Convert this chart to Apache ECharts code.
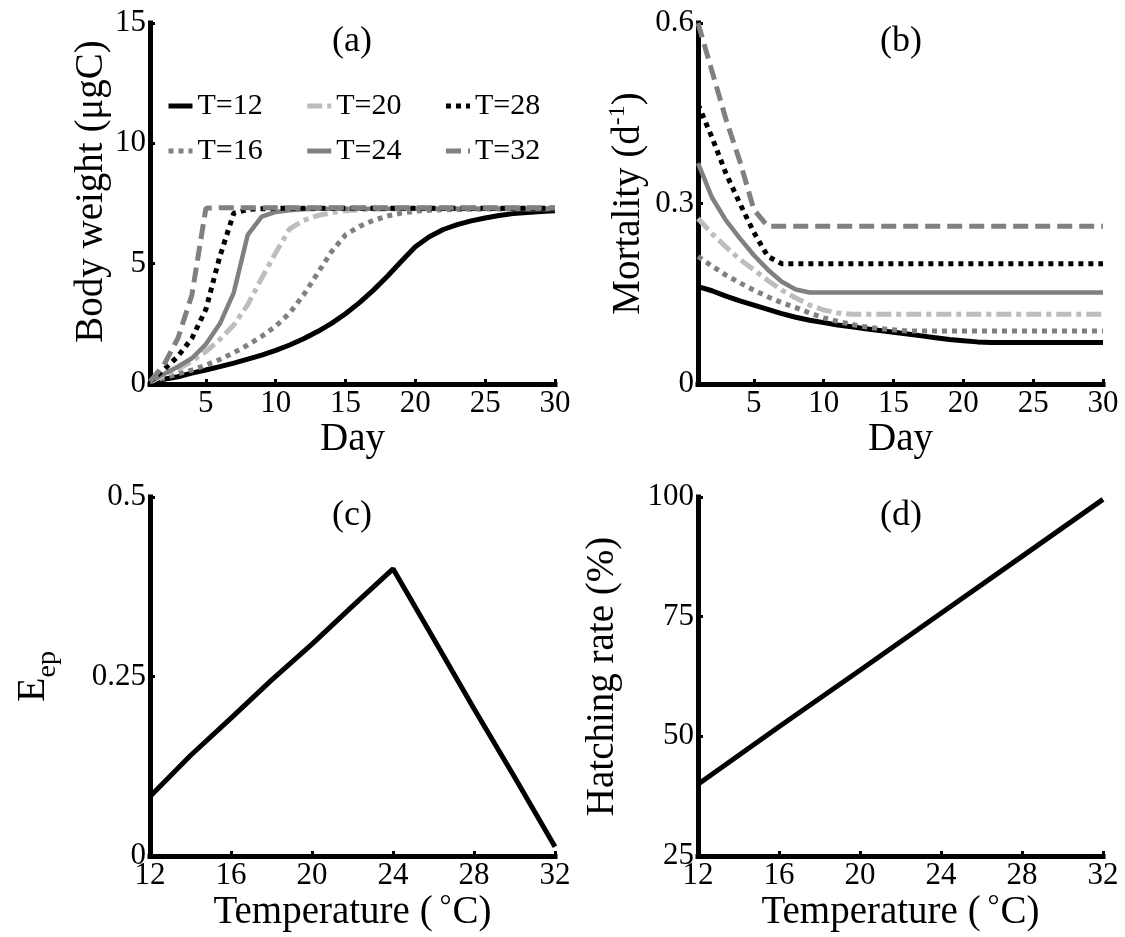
<!DOCTYPE html>
<html>
<head>
<meta charset="utf-8">
<script src="https://cdn.jsdelivr.net/npm/echarts@6/dist/echarts.min.js"></script>
<style>
html,body{margin:0;padding:0;background:#fff;}
#chart{width:1125px;height:937px;}
</style>
</head>
<body>
<div id="chart"></div>
<script>
// ---------- data ----------
const days = [1,2,3,4,5,6,7,8,9,10,11,12,13,14,15,16,17,18,19,20,21,22,23,24,25,26,27,28,29,30];
const seriesNames = ['T=12','T=16','T=20','T=24','T=28','T=32'];

// (a) body weight (μgC)
const weightT12 = [0.1,0.2,0.3,0.45,0.58,0.72,0.87,1.03,1.2,1.4,1.62,1.88,2.18,2.52,2.92,3.38,3.9,4.48,5.1,5.7,6.12,6.42,6.62,6.78,6.9,7.0,7.08,7.13,7.17,7.2];
const weightT16 = [0.1,0.25,0.42,0.58,0.78,1.02,1.3,1.62,1.98,2.4,2.95,3.7,4.6,5.5,6.2,6.55,6.8,6.98,7.1,7.18,7.22,7.24,7.25,7.26,7.27,7.27,7.28,7.28,7.28,7.28];
const weightT20 = [0.1,0.35,0.62,0.95,1.35,1.85,2.45,3.3,4.4,5.45,6.45,6.8,7.0,7.12,7.2,7.24,7.26,7.27,7.28,7.28,7.28,7.28,7.28,7.28,7.28,7.28,7.28,7.28,7.28,7.28];
const weightT24 = [0.1,0.42,0.72,1.07,1.65,2.5,3.8,6.2,6.95,7.15,7.22,7.26,7.28,7.28,7.28,7.28,7.28,7.28,7.28,7.28,7.28,7.28,7.28,7.28,7.28,7.28,7.28,7.28,7.28,7.28];
const weightT28 = [0.1,0.6,1.15,1.9,3.1,5.3,7.1,7.25,7.28,7.3,7.3,7.3,7.3,7.3,7.3,7.3,7.3,7.3,7.3,7.3,7.3,7.3,7.3,7.3,7.3,7.3,7.3,7.3,7.3,7.3];
const weightT32 = [0.1,0.8,1.9,3.7,7.3,7.32,7.32,7.32,7.32,7.32,7.32,7.32,7.32,7.32,7.32,7.32,7.32,7.32,7.32,7.32,7.32,7.32,7.32,7.32,7.32,7.32,7.32,7.32,7.32,7.32];

// (b) mortality (d^-1)
const mortT12 = [0.162,0.155,0.146,0.138,0.131,0.124,0.117,0.111,0.106,0.102,0.098,0.095,0.092,0.089,0.086,0.083,0.08,0.077,0.074,0.072,0.07,0.069,0.069,0.069,0.069,0.069,0.069,0.069,0.069,0.069];
const mortT16 = [0.212,0.196,0.181,0.168,0.156,0.145,0.135,0.127,0.118,0.11,0.104,0.099,0.095,0.092,0.09,0.088,0.088,0.088,0.088,0.088,0.088,0.088,0.088,0.088,0.088,0.088,0.088,0.088,0.088,0.088];
const mortT20 = [0.275,0.25,0.228,0.207,0.19,0.172,0.156,0.143,0.131,0.123,0.118,0.116,0.116,0.116,0.116,0.116,0.116,0.116,0.116,0.116,0.116,0.116,0.116,0.116,0.116,0.116,0.116,0.116,0.116,0.116];
const mortT24 = [0.367,0.31,0.272,0.242,0.214,0.19,0.17,0.157,0.152,0.152,0.152,0.152,0.152,0.152,0.152,0.152,0.152,0.152,0.152,0.152,0.152,0.152,0.152,0.152,0.152,0.152,0.152,0.152,0.152,0.152];
const mortT28 = [0.465,0.41,0.35,0.3,0.252,0.212,0.2,0.2,0.2,0.2,0.2,0.2,0.2,0.2,0.2,0.2,0.2,0.2,0.2,0.2,0.2,0.2,0.2,0.2,0.2,0.2,0.2,0.2,0.2,0.2];
const mortT32 = [0.6,0.52,0.44,0.37,0.29,0.262,0.262,0.262,0.262,0.262,0.262,0.262,0.262,0.262,0.262,0.262,0.262,0.262,0.262,0.262,0.262,0.262,0.262,0.262,0.262,0.262,0.262,0.262,0.262,0.262];

// (c) E_ep vs temperature
const tempC = [12,14,16,18,20,22,24,26,28,30,32];
const eep = [0.083,0.14,0.192,0.245,0.295,0.348,0.4,0.303,0.205,0.11,0.013];

// (d) hatching rate vs temperature
const tempD = [12,16,20,24,28,32];
const hatching = [40,52,63.8,75.7,87.6,99.5];

// tick labels
const dayTicks = [5,10,15,20,25,30];

// ---------- styles ----------
const FONT = 'Liberation Serif';
const lineStyles = {
  'T=12': {color:'#000000', width:5, type:'solid'},
  'T=16': {color:'#808080', width:5, type:[5,5]},
  'T=20': {color:'#bdbdbd', width:5, type:[15,5,5,5]},
  'T=24': {color:'#808080', width:4.5, type:'solid'},
  'T=28': {color:'#000000', width:5, type:[5,5]},
  'T=32': {color:'#808080', width:5, type:[15,7]}
};
const weightData = [weightT12, weightT16, weightT20, weightT24, weightT28, weightT32];
const mortData = [mortT12, mortT16, mortT20, mortT24, mortT28, mortT32];

function axisCommon(){
  return {
    axisLine:{show:true, onZero:false, lineStyle:{color:'#000', width:5, cap:'square'}},
    axisTick:{show:true, inside:true, length:5, lineStyle:{color:'#000', width:3}},
    axisLabel:{fontFamily:FONT, fontSize:31, color:'#000', margin:4},
    splitLine:{show:false},
    nameTextStyle:{fontFamily:FONT, fontSize:39, color:'#000'}
  };
}
function xDay(gridIndex){
  const a = axisCommon();
  a.axisTick.customValues = dayTicks;
  a.axisLabel.customValues = dayTicks;
  return Object.assign(a, {type:'value', gridIndex, min:1, max:30, name:'Day', nameLocation:'middle', nameGap:32});
}
function xTemp(gridIndex){
  const a = axisCommon();
  a.nameTextStyle.rich = {
    t:{fontFamily:FONT, fontSize:39, lineHeight:42, color:'#000'},
    d:{fontFamily:FONT, fontSize:30, lineHeight:30, verticalAlign:'top', color:'#000', padding:[0,1,0,7]}
  };
  return Object.assign(a, {type:'value', gridIndex, min:12, max:32, interval:4, name:'{t|Temperature (}{d|°}{t|C)}', nameLocation:'middle', nameGap:30});
}

const series = [];
seriesNames.forEach((n,i)=>{
  series.push({type:'line', name:n, xAxisIndex:0, yAxisIndex:0, symbol:'none', showSymbol:false,
    itemStyle:{color:lineStyles[n].color}, lineStyle:lineStyles[n],
    data: days.map((d,k)=>[d, weightData[i][k]])});
});
seriesNames.forEach((n,i)=>{
  series.push({type:'line', name:n, xAxisIndex:1, yAxisIndex:1, symbol:'none', showSymbol:false,
    itemStyle:{color:lineStyles[n].color}, lineStyle:lineStyles[n],
    data: days.map((d,k)=>[d, mortData[i][k]])});
});
series.push({type:'line', name:'Eep', xAxisIndex:2, yAxisIndex:2, symbol:'none', lineStyle:{color:'#000', width:5},
  data: tempC.map((t,k)=>[t, eep[k]])});
series.push({type:'line', name:'Hatching', xAxisIndex:3, yAxisIndex:3, symbol:'none', lineStyle:{color:'#000', width:5},
  data: tempD.map((t,k)=>[t, hatching[k]])});

const yA = Object.assign(axisCommon(), {type:'value', gridIndex:0, min:0, max:15, interval:5,
  name:'Body weight (μgC)', nameLocation:'middle', nameRotate:90, nameGap:38});
yA.nameTextStyle.padding = [0,0,0,24];
const yB = Object.assign(axisCommon(), {type:'value', gridIndex:1, min:0, max:0.6, interval:0.3,
  name:'{m|Mortality (d}{p|-1}{m|)}', nameLocation:'middle', nameRotate:90, nameGap:46});
yB.nameTextStyle.rich = {m:{fontFamily:FONT, fontSize:39, lineHeight:46, color:'#000'}, p:{fontFamily:FONT, fontSize:24, lineHeight:24, verticalAlign:'top', color:'#000'}};
const yC = Object.assign(axisCommon(), {type:'value', gridIndex:2, min:0, max:0.5, interval:0.25,
  name:'{e|E}{s|ep}', nameLocation:'middle', nameRotate:90, nameGap:88});
yC.nameTextStyle.rich = {e:{fontFamily:FONT, fontSize:40, lineHeight:58, color:'#000'}, s:{fontFamily:FONT, fontSize:28, lineHeight:28, verticalAlign:'bottom', color:'#000'}};
const yD = Object.assign(axisCommon(), {type:'value', gridIndex:3, min:25, max:100, interval:25,
  name:'Hatching rate (%)', nameLocation:'middle', nameRotate:90, nameGap:76});

const legendCommon = {
  orient:'horizontal', itemWidth:24, itemHeight:14, itemGap:42,
  textStyle:{fontFamily:FONT, fontSize:30, color:'#000'},
  itemStyle:{opacity:0},
  lineStyle:{width:5}, selectedMode:false
};

const option = {
  animation:false,
  backgroundColor:'#fff',
  grid:[
    {left:150, top:23, width:405, height:361},
    {left:698, top:23, width:405, height:361},
    {left:150, top:497, width:405, height:359},
    {left:698, top:497, width:405, height:359}
  ],
  xAxis:[xDay(0), xDay(1), xTemp(2), xTemp(3)],
  yAxis:[yA, yB, yC, yD],
  legend:[
    Object.assign({}, legendCommon, {data:['T=12','T=20','T=28'], left:161, top:86}),
    Object.assign({}, legendCommon, {data:['T=16','T=24','T=32'], left:161, top:131})
  ],
  graphic:[
    {type:'text', x:352, y:42, style:{text:'(a)', fontFamily:FONT, fontSize:36, fill:'#000', align:'center', verticalAlign:'middle'}},
    {type:'text', x:901, y:42, style:{text:'(b)', fontFamily:FONT, fontSize:36, fill:'#000', align:'center', verticalAlign:'middle'}},
    {type:'text', x:352, y:516, style:{text:'(c)', fontFamily:FONT, fontSize:36, fill:'#000', align:'center', verticalAlign:'middle'}},
    {type:'text', x:901, y:516, style:{text:'(d)', fontFamily:FONT, fontSize:36, fill:'#000', align:'center', verticalAlign:'middle'}}
  ],
  series
};

const chart = echarts.init(document.getElementById('chart'), null, {renderer:'canvas'});
chart.setOption(option);
</script>
</body>
</html>
